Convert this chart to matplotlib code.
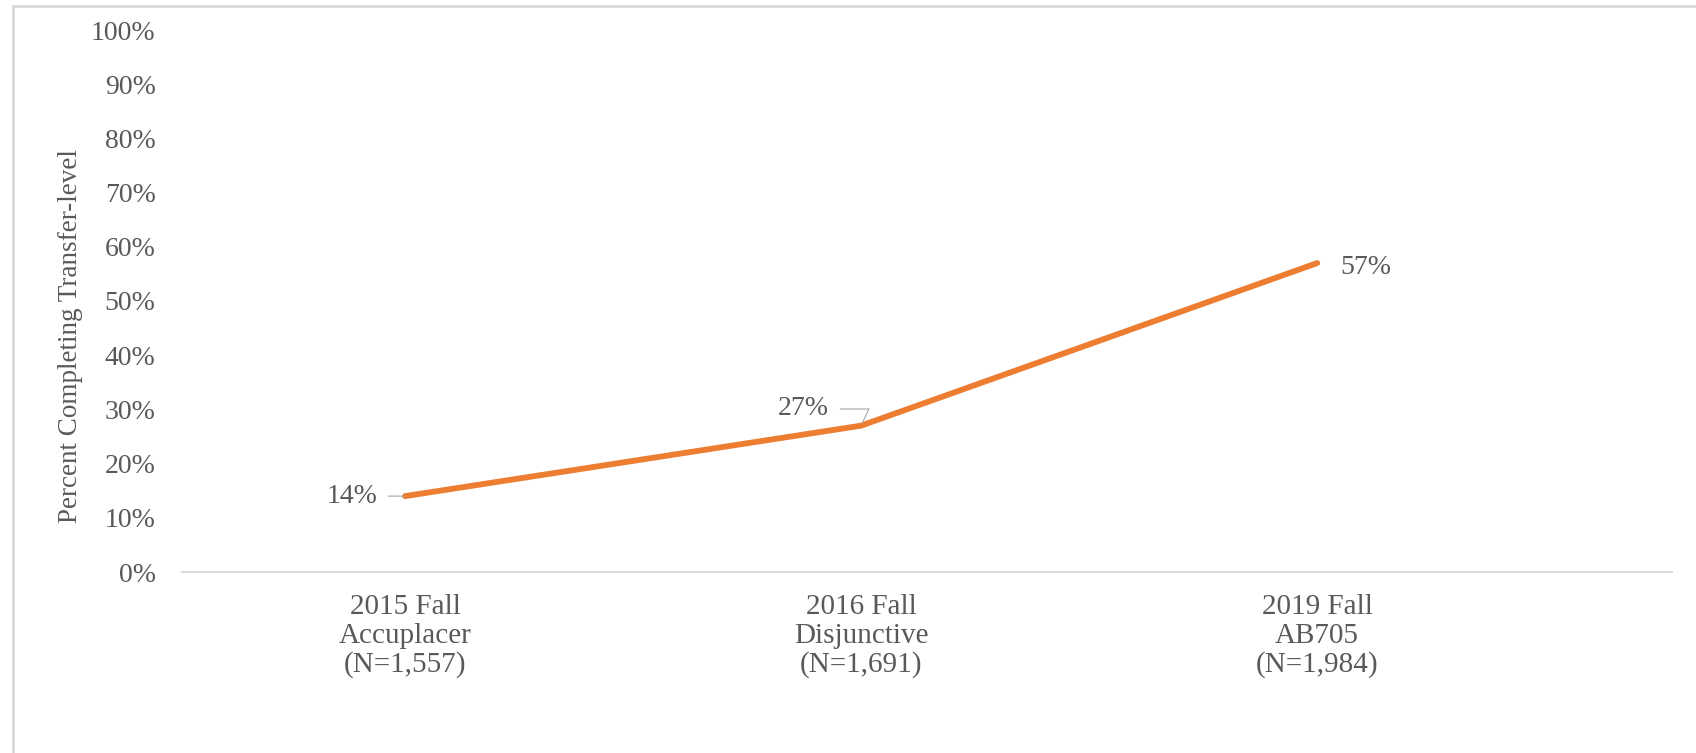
import matplotlib.pyplot as plt
import matplotlib
from matplotlib.patches import Rectangle
matplotlib.rcParams['font.family'] = ['Liberation Serif', 'DejaVu Serif']

categories = ['2015 Fall\nAccuplacer\n(N=1,557)',
              '2016 Fall\nDisjunctive\n(N=1,691)',
              '2019 Fall\nAB705\n(N=1,984)']
percent = [14, 27, 57]
labels = ['14%', '27%', '57%']

text_col = '#595959'
fig = plt.figure(figsize=(16.96, 7.53), dpi=100)
ax = fig.add_axes([182/1696, 1-572/753, (1672-182)/1696, (572-30)/753])

x = list(range(len(percent)))
ax.plot(x, percent, color='#ED7D31', linewidth=4.2, solid_capstyle='round')

ax.set_xlim(-0.489, 2.778)
ax.set_ylim(0, 100)
ax.set_yticks(range(0, 101, 10))
ax.set_yticklabels([f'{v}%' for v in range(0, 101, 10)])
ax.set_xticks(x)
ax.set_xticklabels(categories, linespacing=1.12, fontsize=21)
ax.tick_params(axis='both', length=0, labelsize=20, colors=text_col)
ax.tick_params(axis='x', labelsize=21, pad=16)
ax.tick_params(axis='y', pad=19)
for s in ['top', 'right', 'left']:
    ax.spines[s].set_visible(False)
ax.spines['bottom'].set_color('#d9d9d9')
ax.spines['bottom'].set_linewidth(1.5)
ax.set_ylabel('Percent Completing Transfer-level', fontsize=19.5, color=text_col, labelpad=6)
ax.yaxis.label.set_y(0.435)

# data labels
ax.annotate(labels[0], xy=(x[0], percent[0]), xytext=(-20, 0), textcoords='offset points',
            ha='right', va='center', fontsize=20, color=text_col,
            arrowprops=dict(arrowstyle='-', color='#a6a6a6', lw=0.8, shrinkA=6, shrinkB=0))
ax.annotate(labels[1], xy=(x[1], percent[1]), xytext=(-23, 12), textcoords='offset points',
            ha='right', va='center', fontsize=20, color=text_col,
            arrowprops=dict(arrowstyle='-', color='#a6a6a6', lw=0.8, shrinkA=6, shrinkB=2,
                            connectionstyle='angle,angleA=0,angleB=65,rad=0'))
ax.annotate(labels[2], xy=(x[2], percent[2]), xytext=(17, -3), textcoords='offset points',
            ha='left', va='center', fontsize=20, color=text_col)

# outer frame
fig.patches.append(Rectangle((13/1696, -0.05), 1.0, 1 - 6/753 + 0.05, transform=fig.transFigure,
                             fill=False, edgecolor='#d9d9d9', linewidth=2))

fig.savefig('out.png', dpi=100)
